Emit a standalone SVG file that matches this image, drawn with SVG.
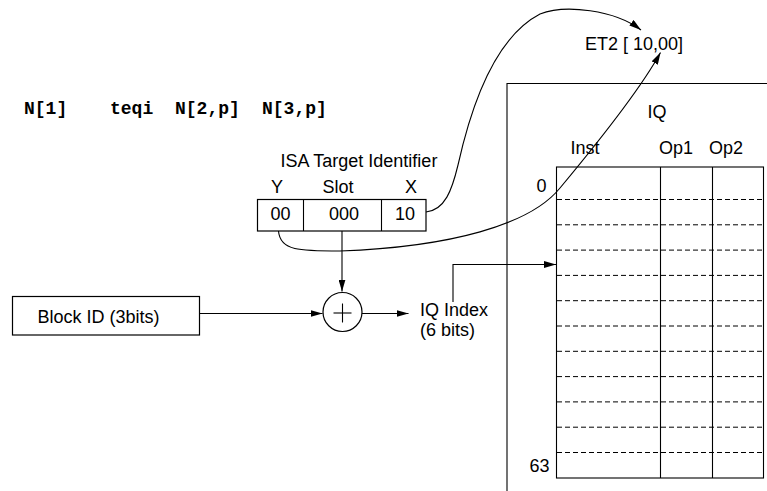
<svg xmlns="http://www.w3.org/2000/svg" width="767" height="491" viewBox="0 0 767 491">
  <style>
    text { font-family: "Liberation Sans", Arial, sans-serif; font-size: 18px; fill: #000; }
    .mono { font-family: "Liberation Mono", "Courier New", monospace; font-weight: bold; font-size: 18px; }
    .mid { text-anchor: middle; }
    .box { fill: #fff; stroke: #000; stroke-width: 1.2; }
    .line { fill: none; stroke: #000; stroke-width: 1.1; }
    .dash { fill: none; stroke: #000; stroke-width: 1; stroke-dasharray: 5 3; }
    .arrow { marker-end: url(#head); }
  </style>
  <defs>
    <marker id="head" viewBox="0 0 12 7" refX="12" refY="3.5" markerWidth="12" markerHeight="7" markerUnits="userSpaceOnUse" orient="auto">
      <path d="M0,0 L12,3.5 L0,7 Z" fill="#000"/>
    </marker>
  </defs>

  <rect width="767" height="491" fill="#fff"/>

  <!-- instruction encoding -->
  <g id="instruction">
    <text class="mono" x="24" y="114">N[1]</text>
    <text class="mono" x="110" y="114">teqi</text>
    <text class="mono" x="175" y="114">N[2,p]</text>
    <text class="mono" x="262" y="114">N[3,p]</text>
  </g>

  <!-- ISA target identifier fields -->
  <g id="target-id">
    <text class="mid" x="359" y="167">ISA Target Identifier</text>
    <text class="mid" x="277" y="193">Y</text>
    <text class="mid" x="338" y="193">Slot</text>
    <text class="mid" x="411" y="193">X</text>
    <rect class="box" x="257.5" y="199.5" width="168.5" height="31.5"/>
    <line class="line" x1="303.5" y1="199.5" x2="303.5" y2="231"/>
    <line class="line" x1="381.5" y1="199.5" x2="381.5" y2="231"/>
    <text class="mid" x="280.5" y="219.5">00</text>
    <text class="mid" x="344" y="219.5">000</text>
    <text class="mid" x="405" y="219.5">10</text>
  </g>

  <!-- block identifier -->
  <g id="block-id">
    <rect class="box" x="12.5" y="296.5" width="187" height="38.5"/>
    <text class="mid" x="98.5" y="323">Block ID (3bits)</text>
  </g>

  <!-- adder -->
  <g id="adder">
    <circle class="box" cx="342.5" cy="312" r="19.5"/>
    <line class="line" x1="333.5" y1="313" x2="351.5" y2="313"/>
    <line class="line" x1="342.5" y1="303.5" x2="342.5" y2="322.5"/>
  </g>

  <!-- index label -->
  <g id="iq-index">
    <text x="420" y="315.5">IQ Index</text>
    <text x="420" y="335.5">(6 bits)</text>
  </g>

  <!-- target name -->
  <g id="et2">
    <text x="585" y="50">ET2 [ 10,00]</text>
  </g>

  <!-- instruction queue -->
  <g id="iq">
    <polyline class="line" points="507,491 507,83.5 767,83.5"/>
    <text class="mid" x="657" y="118">IQ</text>
    <text class="mid" x="585" y="154">Inst</text>
    <text class="mid" x="676" y="154">Op1</text>
    <text class="mid" x="726" y="154">Op2</text>
    <text class="mid" x="541.5" y="192">0</text>
    <text class="mid" x="539.5" y="472">63</text>
    <g class="dash">
      <line x1="557" y1="199.5" x2="763" y2="199.5"/>
      <line x1="557" y1="224.8" x2="763" y2="224.8"/>
      <line x1="557" y1="250.1" x2="763" y2="250.1"/>
      <line x1="557" y1="275.4" x2="763" y2="275.4"/>
      <line x1="557" y1="300.7" x2="763" y2="300.7"/>
      <line x1="557" y1="326" x2="763" y2="326"/>
      <line x1="557" y1="351.3" x2="763" y2="351.3"/>
      <line x1="557" y1="376.6" x2="763" y2="376.6"/>
      <line x1="557" y1="401.9" x2="763" y2="401.9"/>
      <line x1="557" y1="427.2" x2="763" y2="427.2"/>
      <line x1="557" y1="452.5" x2="763" y2="452.5"/>
    </g>
    <rect class="line" x="556.5" y="167" width="207" height="311"/>
    <line class="line" x1="660.5" y1="167" x2="660.5" y2="478"/>
    <line class="line" x1="712.5" y1="167" x2="712.5" y2="478"/>
  </g>

  <!-- connectors -->
  <g id="connectors">
    <path class="line arrow" d="M199.5,313.5 H322.5"/>
    <path class="line arrow" d="M342,231 V291.5"/>
    <path class="line arrow" d="M362,313.5 H408.5"/>
    <path class="line arrow" d="M453,302 V264.5 H556"/>
    <path class="line arrow" d="M426,212 C445,210 452,190 458,165 C468,120 490,40 540,14 C565,4 615,10 641,30"/>
    <path class="line arrow" d="M278.5,231 C280,251 300,251 340,251 C450,247 530,225 560,188 C600,140 640,90 660.5,52.5"/>
  </g>
</svg>
